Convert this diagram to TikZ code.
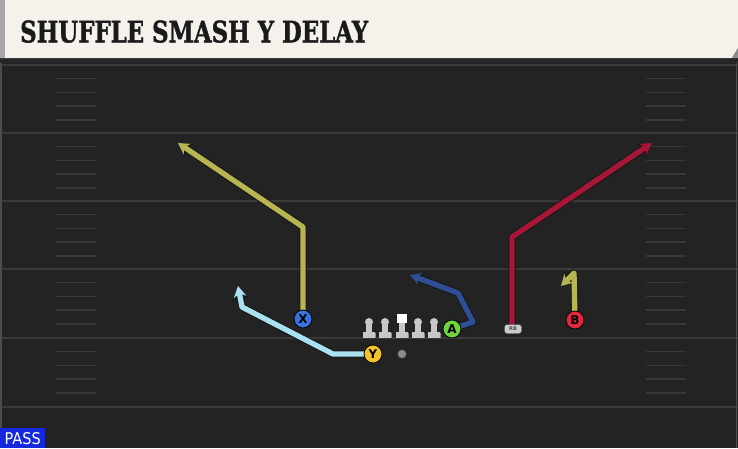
\documentclass[tikz,border=0pt]{standalone}
\usepackage{fontspec}
\setmainfont{DejaVu Serif}
\setsansfont{DejaVu Sans}
\newfontfamily\titlefont[BoldFeatures={FakeBold=1.4}]{DejaVu Serif}
\usetikzlibrary{arrows.meta}
\definecolor{fieldbg}{RGB}{35,35,35}
\definecolor{yardln}{RGB}{58,58,58}
\definecolor{hashln}{RGB}{56,56,56}
\definecolor{titlebg}{RGB}{244,242,235}
\definecolor{titletxt}{RGB}{26,26,26}
\definecolor{olivert}{RGB}{184,180,82}
\definecolor{crimsonrt}{RGB}{168,22,55}
\definecolor{bluert}{RGB}{46,78,150}
\definecolor{cyanrt}{RGB}{170,225,240}
\definecolor{xcol}{RGB}{55,115,220}
\definecolor{ycol}{RGB}{242,196,40}
\definecolor{acol}{RGB}{112,212,62}
\definecolor{bcol}{RGB}{226,40,62}
\definecolor{passcol}{RGB}{22,40,222}
\definecolor{linegray}{RGB}{200,200,200}
\tikzset{
  player/.style={circle,draw=black,line width=0.8pt,minimum size=18pt,inner sep=0pt,
    font=\sffamily\bfseries\fontsize{12}{12}\selectfont,text=black},
  routeout/.style={draw=black!90,line width=7.5pt,line join=round,-{Stealth[length=14pt,width=16pt]}},
  routein/.style={draw=#1,line width=5.3pt,line join=round,-{Stealth[length=11pt,width=12.5pt]}},
  yard/.style={draw=yardln,line width=2pt},
  hashm/.style={draw=hashln,line width=1.4pt},
  lman/.pic={
    \fill[linegray!70!black] (-6.5,3.5) rectangle (6.5,9);
    \fill[linegray] (-6,3) rectangle (6,8.5);
    \fill[linegray] (-2.6,-7) rectangle (2.6,4);
    \fill[linegray] (0,-7) circle (4);
  }
}
\begin{document}
\begin{tikzpicture}[x=1pt,y=-1pt]
\useasboundingbox (0,0) rectangle (738,448);
% field
\fill[fieldbg] (0,0) rectangle (738,448);
\fill[black!85] (0,56) rectangle (738,63);
\foreach \yy in {65,133,201,269,338,407}{
  \draw[yard] (0,\yy) -- (738,\yy);
}
\foreach \base in {65,133,201,269,338}{
  \foreach \k in {1,2,3,4}{
    \draw[hashm] (56,{\base+13.7*\k}) -- (96,{\base+13.7*\k});
    \draw[hashm] (646,{\base+13.7*\k}) -- (686,{\base+13.7*\k});
  }
}
\draw[draw=black!70,line width=1.5pt] (736.5,63) -- (736.5,448);
\draw[draw=black!70,line width=1.5pt] (1,63) -- (1,448);
% title bar
\fill[titlebg] (0,0) -- (738,0) -- (738,48) -- (732,58) -- (0,58) -- cycle;
\fill[black!35] (0,0) rectangle (5,58);
\fill[black!45] (738,48) -- (738,58) -- (732,58) -- cycle;
\node[anchor=south west,inner sep=0pt,text=titletxt] (title) at (20,43)
  {\resizebox{348pt}{22pt}{\titlefont\bfseries SHUFFLE SMASH Y DELAY}};
% PASS
\fill[passcol] (0,428) rectangle (45,448);
\node[anchor=south west,inner sep=0pt,text=white] (pass) at (4.5,444.5)
  {\resizebox{36pt}{12pt}{\sffamily PASS}};
% players (positions)
\coordinate (Xp) at (303,319);
\coordinate (Yp) at (373,354);
\coordinate (Ap) at (452,329);
\coordinate (Bp) at (575,320);
\coordinate (RBp) at (513,329);
% route waypoints
\coordinate (x1) at (303,227); \coordinate (xend) at (178,143);
\coordinate (y1) at (333,354); \coordinate (y2) at (242,307); \coordinate (yend) at (238,286);
\coordinate (a1) at (473,322); \coordinate (a2) at (458,293); \coordinate (aend) at (410,275);
\coordinate (r1) at (512,237); \coordinate (rend) at (652,143);
\coordinate (b1) at (574,273); \coordinate (bend) at (561,286);
% routes
\draw[routeout] (Xp) -- (x1) -- (xend);
\draw[routein=olivert] (Xp) -- (x1) -- (xend);
\draw[routeout] (Yp) -- (y1) -- (y2) -- (yend);
\draw[routein=cyanrt] (Yp) -- (y1) -- (y2) -- (yend);
\draw[routeout] (Ap) -- (a1) -- (a2) -- (aend);
\draw[routein=bluert] (Ap) -- (a1) -- (a2) -- (aend);
\draw[routeout] (RBp) ++(-1,0) -- (r1) -- (rend);
\draw[routein=crimsonrt] (RBp) ++(-1,0) -- (r1) -- (rend);
\draw[routeout] (Bp) -- (b1) -- (bend);
\draw[routein=olivert] (Bp) -- (b1) -- (bend);
% linemen
\foreach \lx in {369,385,418,434}{ \pic at (\lx,329) {lman}; }
\fill[linegray!70!black] (395.5,332.5) rectangle (408.5,338);
\fill[linegray] (396,332) rectangle (408,337.5);
\fill[linegray] (399.4,322) rectangle (404.6,333);
\fill[white] (397,314) rectangle (406.5,323);
% QB ball
\node[circle,fill=black!45,draw=black!80,line width=0.6pt,minimum size=9pt,inner sep=0pt] (qb) at (402,354) {};
% player nodes
\node[player,fill=xcol] (X) at (Xp) {X};
\node[player,fill=ycol] (Y) at (Yp) {Y};
\node[player,fill=acol] (A) at (Ap) {A};
\node[player,fill=bcol] (B) at (Bp) {B};
\node[draw=black!70,fill=black!20,rounded corners=2.5pt,minimum width=17pt,minimum height=9pt,inner sep=0pt,
  font=\sffamily\bfseries\fontsize{5}{5}\selectfont,text=black!70] (RB) at (RBp) {RB};
\end{tikzpicture}
\end{document}
